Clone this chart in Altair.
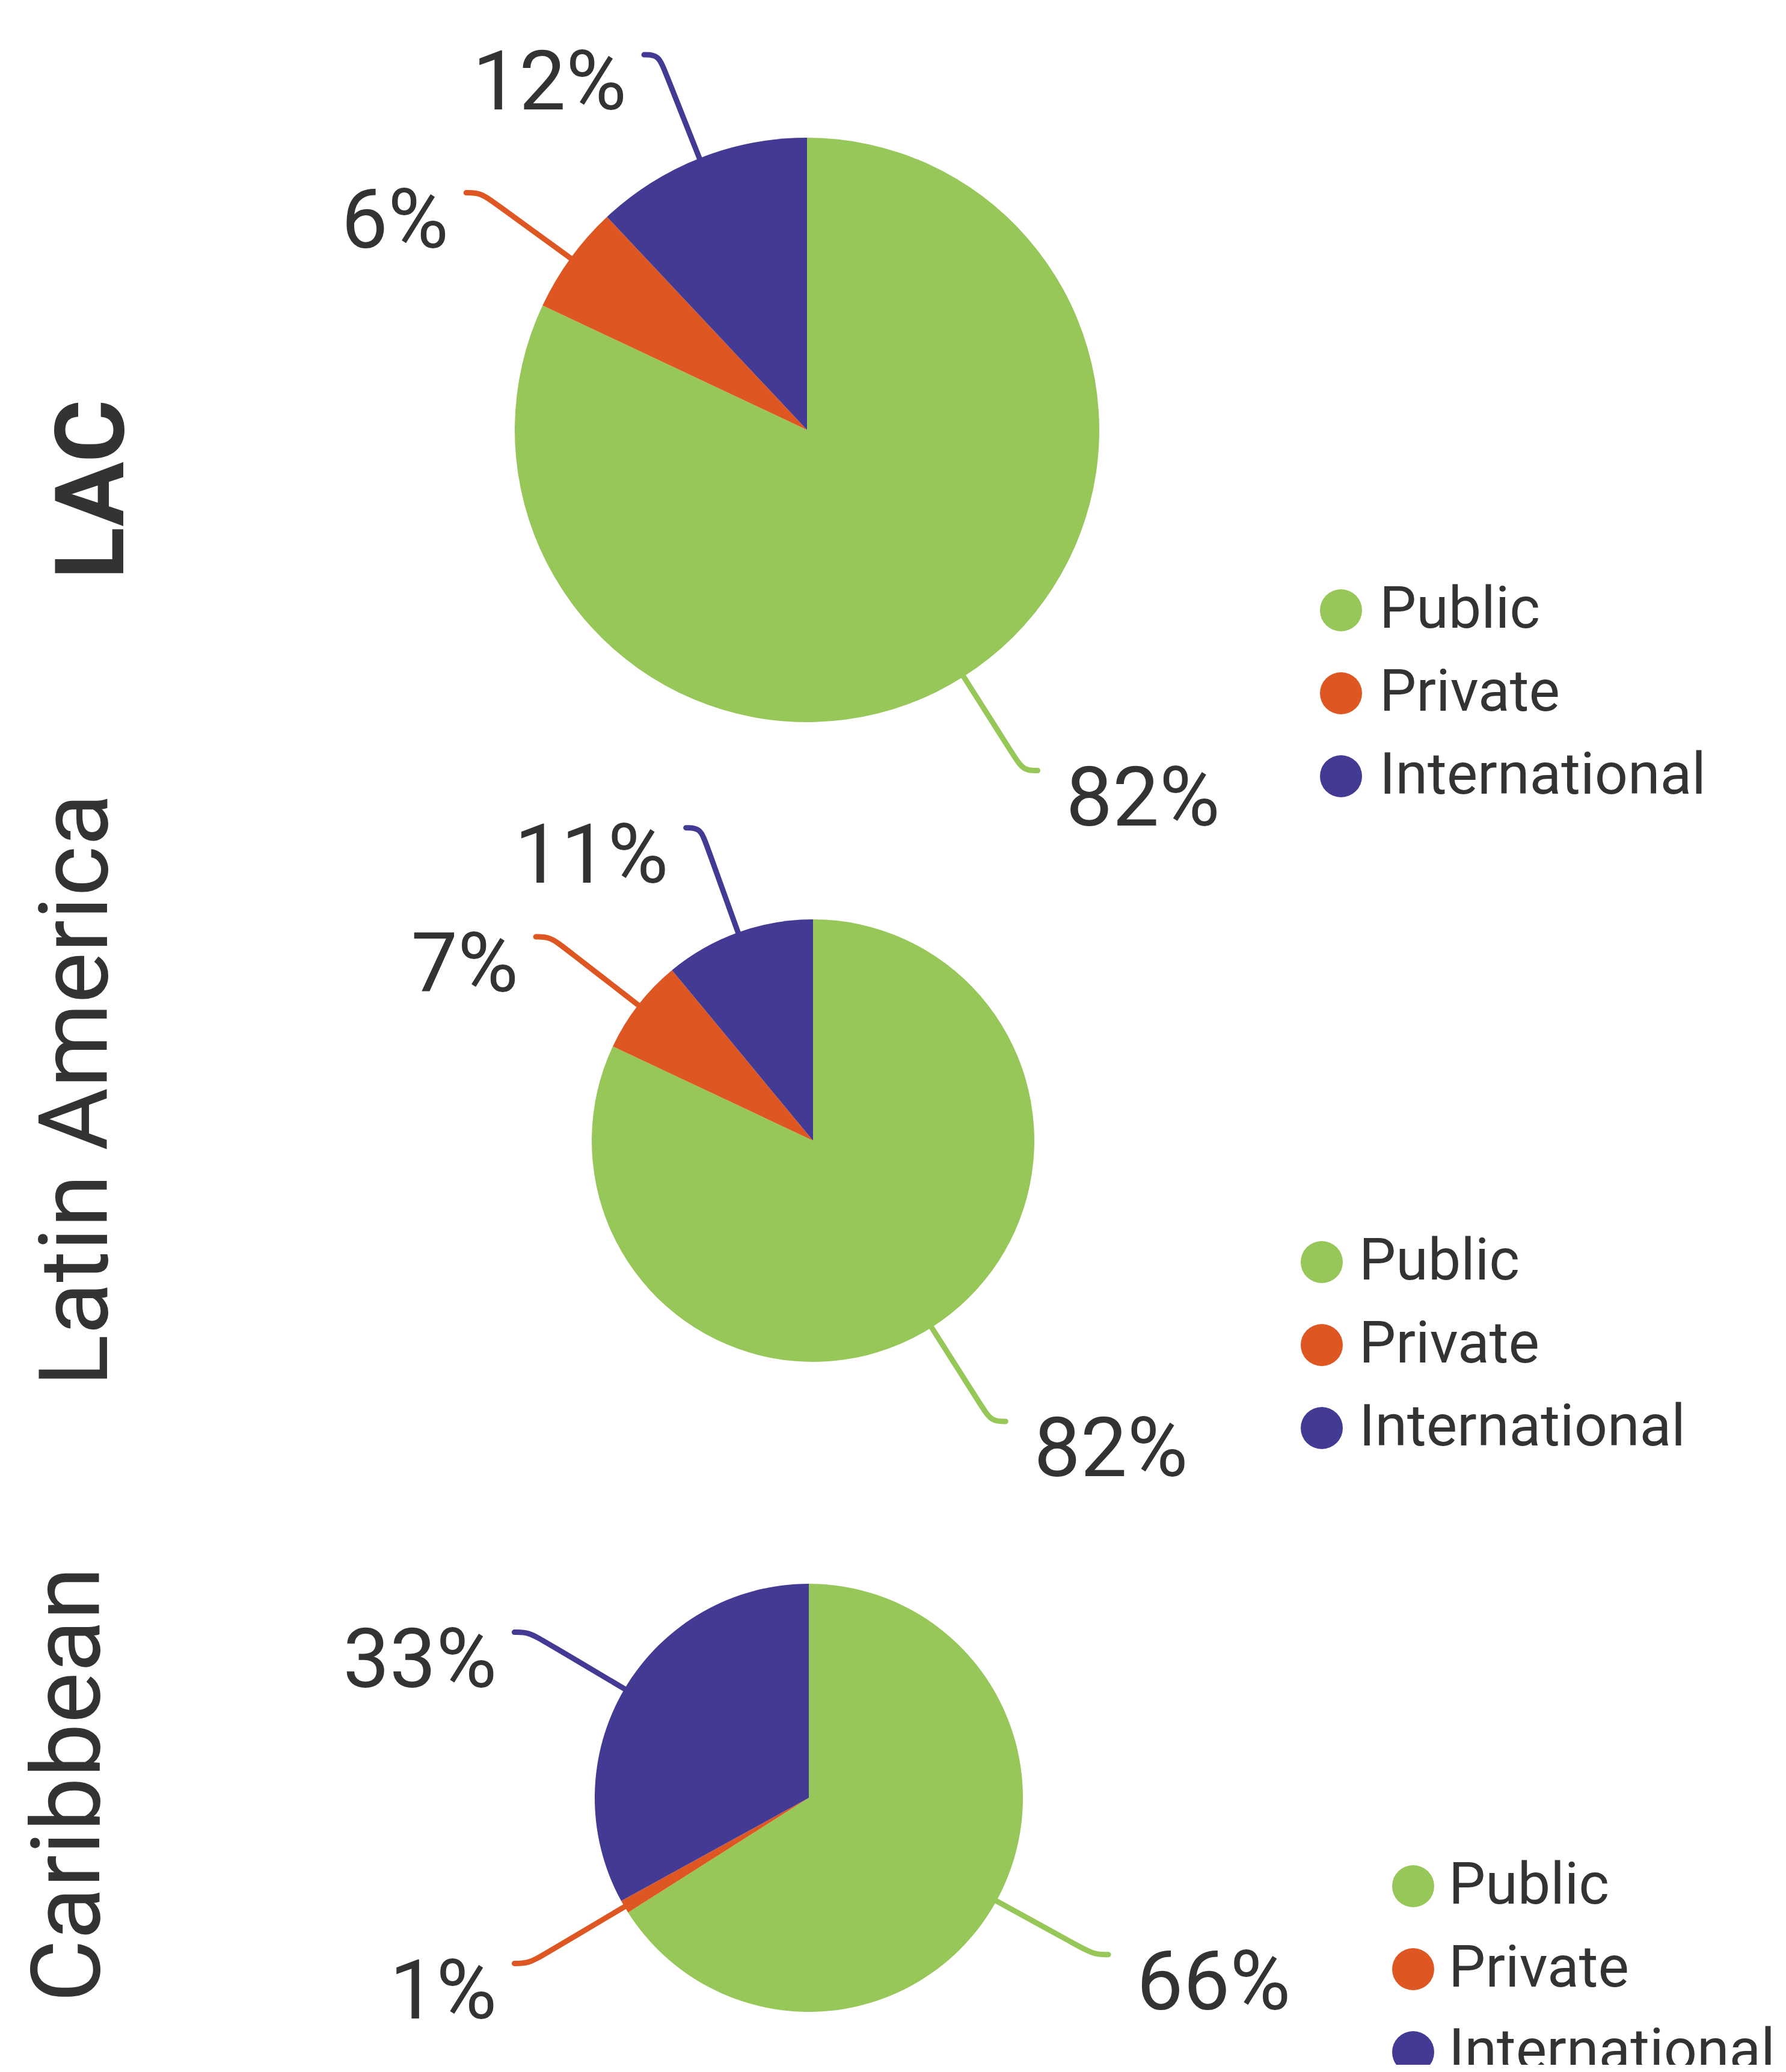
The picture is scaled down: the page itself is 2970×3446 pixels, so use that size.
import altair as alt
import pandas as pd

# ---------------- data ----------------
regions = ["LAC", "Latin America", "Caribbean"]
categories = ["Public", "Private", "International"]
public_share = [82, 82, 66]
private_share = [6, 7, 1]
international_share = [12, 11, 33]

colors = ["#96C758", "#DE5722", "#433A93"]
TEXT = "#333333"

series = [public_share, private_share, international_share]
rows = []
for i, reg in enumerate(regions):
    for j, cat in enumerate(categories):
        rows.append({"region": reg, "category": cat, "idx": j, "value": series[j][i]})
df = pd.DataFrame(rows)

# ---------------- layout (pixels, per panel) ----------------
W = 2954
LEAD = 185      # leader line length beyond pie edge
BEND = 30       # where the leader starts to bend
HOOK = 24       # horizontal hook
FS = 138        # percent label font size
GAP_R = 47
GAP_L = 29
ROW = 138       # legend row spacing
LFS = 97        # legend font size
TFS = 160       # row title font size
layout = {
    "LAC": dict(h=1262, cx=1334, cy=707, r=486, tx=197, ty=806,
                sx=2222, sy=1007, lx=2286, weight="bold", clip=False),
    "Latin America": dict(h=1290, cx=1344, cy=627, r=368, tx=170, ty=543,
                          sx=2190, sy=829, lx=2252, weight="normal", clip=False),
    "Caribbean": dict(h=874, cx=1337, cy=430, r=356, tx=157, ty=408,
                      sx=2342, sy=577, lx=2401, weight="normal", clip=True),
}


def panel(reg):
    L = layout[reg]
    cx, cy, r = L["cx"], L["cy"], L["r"]
    R = r + LEAD
    base = alt.Chart(df).transform_filter(alt.datum.region == reg)
    cscale = alt.Scale(domain=categories, range=colors)
    col = alt.Color("category:N", scale=cscale, legend=None)

    pie = base.mark_arc(radius=r).encode(
        theta=alt.Theta("value:Q", stack=True),
        order=alt.Order("idx:Q"),
        color=col,
        x=alt.value(cx),
        y=alt.value(cy),
    )

    geo = (
        base.transform_joinaggregate(total="sum(value)")
        .transform_window(cum="sum(value)", sort=[alt.SortField("idx")], frame=[None, 0])
        .transform_calculate(
            a="2*PI*(datum.cum - datum.value/2)/datum.total",
            s="sin(datum.a)",
            c="cos(datum.a)",
            side="sin(datum.a) < 0 ? -1 : 1",
            x0=f"{cx} + {r}*datum.s",
            y0=f"{cy} - {r}*datum.c",
            xm=f"{cx} + {R - BEND}*datum.s",
            ym=f"{cy} - {R - BEND}*datum.c",
            x1=f"{cx} + {R}*datum.s",
            y1=f"{cy} - {R}*datum.c",
            x2=f"datum.x1 + {HOOK}*datum.side",
            xt=f"datum.x2 + (datum.side > 0 ? {GAP_R} : -{GAP_L})",
            yt=f"datum.y1 + {0.711 * FS - 7}",
            label="datum.value + '%'",
        )
    )

    leader = (
        geo.transform_fold(["x0", "xm", "x1", "x2"], as_=["pt", "px"])
        .transform_calculate(
            k="indexof(['x0','xm','x1','x2'], datum.pt)",
            py="datum.pt == 'x0' ? datum.y0 : (datum.pt == 'xm' ? datum.ym : datum.y1)",
        )
        .mark_line(interpolate="basis", strokeWidth=9, strokeCap="round")
        .encode(
            x=alt.X("px:Q", scale=None, axis=None),
            y=alt.Y("py:Q", scale=None, axis=None),
            color=col,
            detail="category:N",
            order="k:Q",
        )
    )

    txt_r = geo.transform_filter("datum.side > 0").mark_text(
        align="left", baseline="alphabetic", font="Roboto", fontSize=FS, color=TEXT
    ).encode(
        x=alt.X("xt:Q", scale=None, axis=None),
        y=alt.Y("yt:Q", scale=None, axis=None),
        text="label:N",
    )
    txt_l = geo.transform_filter("datum.side < 0").mark_text(
        align="right", baseline="alphabetic", font="Roboto", fontSize=FS, color=TEXT
    ).encode(
        x=alt.X("xt:Q", scale=None, axis=None),
        y=alt.Y("yt:Q", scale=None, axis=None),
        text="label:N",
    )

    # legend (one entry per category; the bottom one is cut by the page edge like the original)
    leg = base.transform_calculate(ly=f"{L['sy']} + datum.idx*{ROW}")
    leg_sym = leg.mark_circle(size=4900, opacity=1, clip=L["clip"]).encode(
        x=alt.value(L["sx"]),
        y=alt.Y("ly:Q", scale=None, axis=None),
        color=col,
    )
    leg_txt = leg.mark_text(
        align="left", baseline="middle", font="Roboto", fontSize=LFS, color=TEXT, clip=L["clip"]
    ).encode(
        x=alt.value(L["lx"]),
        y=alt.Y("ly:Q", scale=None, axis=None),
        text="category:N",
    )

    title = alt.Chart(pd.DataFrame({"region": [reg]})).mark_text(
        angle=270,
        align="center",
        baseline="alphabetic",
        font="Roboto",
        fontSize=TFS,
        fontWeight=L["weight"],
        color=TEXT,
    ).encode(x=alt.value(L["tx"]), y=alt.value(L["ty"]), text="region:N")

    return alt.layer(pie, leader, txt_r, txt_l, leg_sym, leg_txt, title).properties(
        width=W, height=L["h"]
    )


chart = (
    alt.vconcat(*[panel(reg) for reg in regions], spacing=0, bounds="flush")
    .resolve_scale(color="independent")
    .properties(padding=0, background="white")
    .configure_view(stroke=None)
)

chart.save("out.html", embed_options={"renderer": "svg", "actions": False})
